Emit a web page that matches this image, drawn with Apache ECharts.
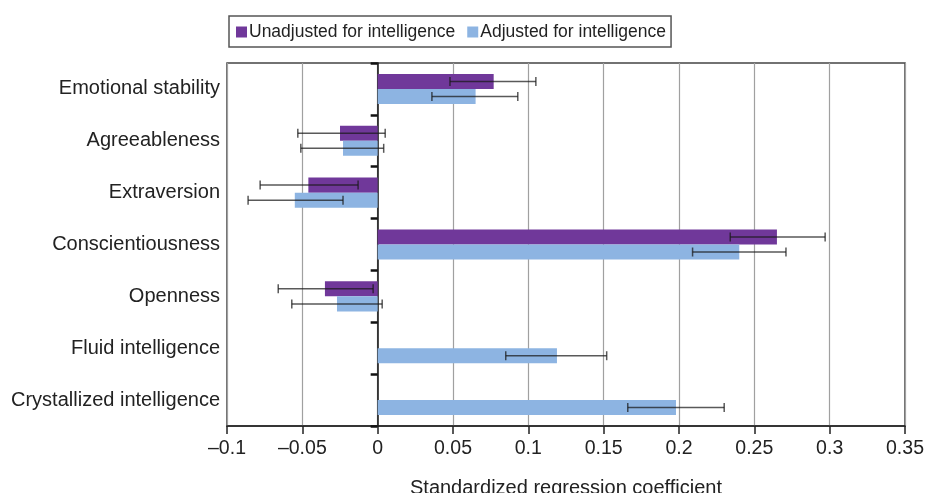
<!DOCTYPE html>
<html>
<head>
<meta charset="utf-8">
<script src="https://cdn.jsdelivr.net/npm/echarts@6/dist/echarts.min.js"></script>
<style>
html,body{margin:0;padding:0;background:#fff;}
#chart{width:926px;height:493px;}
</style>
</head>
<body>
<div id="chart"></div>
<script>
var categories = ['Emotional stability', 'Agreeableness', 'Extraversion', 'Conscientiousness', 'Openness', 'Fluid intelligence', 'Crystallized intelligence'];
var unadjusted = [0.077, -0.025, -0.046, 0.265, -0.035, null, null];
var unadjLow   = [0.048, -0.053, -0.078, 0.234, -0.066, null, null];
var unadjHigh  = [0.105, 0.005, -0.013, 0.297, -0.003, null, null];
var adjusted   = [0.065, -0.023, -0.055, 0.240, -0.027, 0.119, 0.198];
var adjLow     = [0.036, -0.051, -0.086, 0.209, -0.057, 0.085, 0.166];
var adjHigh    = [0.093, 0.004, -0.023, 0.271, 0.003, 0.152, 0.230];
var xTicks = [-0.1, -0.05, 0, 0.05, 0.1, 0.15, 0.2, 0.25, 0.3, 0.35];

var BAR_FRAC = 0.29;
var FONT = 'Liberation Sans, Arial, sans-serif';

function errData(low, high, sign) {
  var out = [];
  for (var i = 0; i < low.length; i++) {
    if (low[i] != null && high[i] != null) out.push([i, low[i], high[i], sign]);
  }
  return out;
}

function renderErr(params, api) {
  var cat = api.value(0), lo = api.value(1), hi = api.value(2), sign = api.value(3);
  var band = api.size([0, 1])[1];
  var barW = band * BAR_FRAC;
  var p1 = api.coord([lo, cat]);
  var p2 = api.coord([hi, cat]);
  var y = p1[1] + sign * barW / 2;
  var cap = 4.5;
  var style = { stroke: 'rgba(25,25,25,0.72)', lineWidth: 1.5 };
  return {
    type: 'group',
    children: [
      { type: 'line', shape: { x1: p1[0], y1: y, x2: p2[0], y2: y }, style: style },
      { type: 'line', shape: { x1: p1[0], y1: y - cap, x2: p1[0], y2: y + cap }, style: style },
      { type: 'line', shape: { x1: p2[0], y1: y - cap, x2: p2[0], y2: y + cap }, style: style }
    ]
  };
}

function fmt(v) {
  var s = String(parseFloat(Number(v).toFixed(2)));
  if (v < 0) s = '\u2013' + s.replace('-', '');
  return s;
}

var chart = echarts.init(document.getElementById('chart'), null, { renderer: 'canvas' });
chart.setOption({
  animation: false,
  backgroundColor: '#fff',
  textStyle: { fontFamily: FONT },
  legend: {
    left: 229, top: 16,
    padding: [7, 5, 6, 7],
    itemWidth: 11, itemHeight: 11, itemGap: 12,
    icon: 'rect',
    borderColor: '#555', borderWidth: 1.5,
    textStyle: { fontSize: 17.5, color: '#222', fontFamily: FONT, padding: [0, 0, 0, -3] },
    data: ['Unadjusted for intelligence', 'Adjusted for intelligence']
  },
  grid: {
    left: 227, right: 21, top: 63, bottom: 67,
    outerBoundsMode: 'none', containLabel: false,
    show: true, borderColor: '#444', borderWidth: 1.5, backgroundColor: 'transparent'
  },
  xAxis: {
    type: 'value', min: -0.1, max: 0.35, interval: 0.05,
    name: 'Standardized regression coefficient',
    nameLocation: 'middle', nameGap: 52,
    nameTextStyle: { fontSize: 20, color: '#222', fontFamily: FONT },
    axisLine: { show: true, lineStyle: { color: '#222', width: 1.5 } },
    axisTick: { show: true, inside: false, length: 8, lineStyle: { color: '#222', width: 1.5 } },
    axisLabel: { fontSize: 19.5, color: '#222', margin: 13, fontFamily: FONT, formatter: fmt },
    splitLine: { show: true, lineStyle: { color: '#a0a0a0', width: 1.2 } }
  },
  yAxis: [
    {
      type: 'category', data: categories, inverse: true, position: 'left',
      axisLine: { show: false, onZero: false },
      axisTick: { show: false },
      axisLabel: { fontSize: 20, color: '#222', margin: 7, fontFamily: FONT },
      splitLine: { show: false }
    },
    {
      type: 'category', data: categories, inverse: true, position: 'left',
      axisLine: { show: true, onZero: true, lineStyle: { color: '#111', width: 1.5 } },
      axisTick: { show: true, inside: false, length: 7, lineStyle: { color: '#111', width: 2.5 } },
      axisLabel: { show: false },
      splitLine: { show: false }
    }
  ],
  series: [
    {
      name: 'Unadjusted for intelligence', type: 'bar', yAxisIndex: 0,
      data: unadjusted, barWidth: (BAR_FRAC * 100) + '%', barGap: '0%',
      itemStyle: { color: '#70389A' }, z: 2
    },
    {
      name: 'Adjusted for intelligence', type: 'bar', yAxisIndex: 0,
      data: adjusted, barWidth: (BAR_FRAC * 100) + '%', barGap: '0%',
      itemStyle: { color: '#8DB4E2' }, z: 2
    },
    {
      type: 'custom', yAxisIndex: 0, renderItem: renderErr,
      data: errData(unadjLow, unadjHigh, -1), z: 5, silent: true
    },
    {
      type: 'custom', yAxisIndex: 0, renderItem: renderErr,
      data: errData(adjLow, adjHigh, 1), z: 5, silent: true
    }
  ]
});
</script>
</body>
</html>
